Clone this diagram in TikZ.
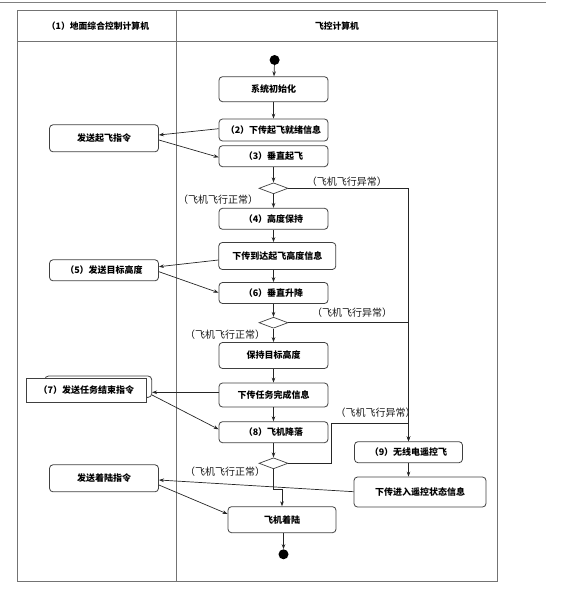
\documentclass[tikz,border=0pt]{standalone}
\usepackage{fontspec}
\setmainfont{Noto Sans CJK SC}
\usetikzlibrary{arrows.meta,shapes.geometric}
\begin{document}
\begin{tikzpicture}[x=1pt,y=-1pt,
  box/.style={draw=black!75, line width=0.8pt, rounded corners=3.5pt, inner sep=0pt, font=\bfseries\fontsize{9}{10}\selectfont},
  dec/.style={diamond, draw=black!75, line width=0.7pt, inner sep=0pt, minimum width=29pt, minimum height=11pt},
  lbl/.style={font=\fontsize{10}{11}\selectfont, text=black!90, inner sep=0pt},
  hdr/.style={font=\bfseries\fontsize{8.8}{10}\selectfont, inner sep=0pt},
  arr/.style={-{Stealth[length=5pt,width=3.6pt]}, line width=0.7pt, draw=black!85},
  ln/.style={line width=0.7pt, draw=black!85},
  frame/.style={draw=black!55, line width=0.8pt},
  dot/.style={circle, fill=black, inner sep=0pt, minimum size=10pt}
]
\useasboundingbox (0,0) rectangle (565,599);
% top rule
\draw[draw=black!50, line width=1.4pt] (0,2.7) -- (546,2.7);
% swimlane frame
\draw[frame] (17.3,10) rectangle (497.3,581.7);
\draw[frame] (17.3,41.7) -- (497.3,41.7);
\draw[frame] (176.6,10) -- (176.6,581.7);
\node[hdr] (h1) at (98,26) {（1）地面综合控制计算机};
\node[hdr] (h2) at (337,26) {飞控计算机};

% flight computer column
\node[dot] (start) at (274.6,60) {};
\node[box, minimum width=109pt, minimum height=25pt] (init) at (273.5,89.2) {系统初始化};
\node[box, minimum width=109pt, minimum height=22pt] (n2) at (273.5,130) {（2）下传起飞就绪信息};
\node[box, minimum width=109pt, minimum height=21pt] (n3) at (273.5,156.2) {（3）垂直起飞};
\node[dec] (d1) at (273.5,188.3) {};
\node[box, minimum width=109pt, minimum height=21pt] (n4) at (273.5,218.8) {（4）高度保持};
\node[box, minimum width=117pt, minimum height=27pt] (n4b) at (277.3,256) {下传到达起飞高度信息};
\node[box, minimum width=109pt, minimum height=21pt] (n6) at (273.5,293) {（6）垂直升降};
\node[dec] (d2) at (273.5,322.7) {};
\node[box, minimum width=109pt, minimum height=26pt] (keep) at (273.5,355.5) {保持目标高度};
\node[box, minimum width=109pt, minimum height=24pt] (done) at (273.5,395) {下传任务完成信息};
\node[box, minimum width=109pt, minimum height=21pt] (n8) at (273.5,432.2) {（8）飞机降落};
\node[dec] (d3) at (273.5,463.3) {};
\node[box, minimum width=108pt, minimum height=21pt] (n9) at (408.5,452.2) {（9）无线电遥控飞};
\node[box, minimum width=132pt, minimum height=30pt] (rc) at (420,492) {下传进入遥控状态信息};
\node[box, minimum width=108pt, minimum height=26pt] (land) at (282,519.7) {飞机着陆};
\node[dot] (end) at (283.5,554.3) {};

% ground computer column
\node[box, minimum width=109pt, minimum height=27pt] (sto) at (104,138.3) {发送起飞指令};
\node[box, minimum width=109pt, minimum height=21pt] (n5) at (104,270.3) {（5）发送目标高度};
\node[box, fill=white, minimum width=106.7pt, minimum height=21.3pt] (n7b) at (98.3,386.7) {};
\node[box, rounded corners=0pt, fill=white, line width=0.9pt, minimum width=120.7pt, minimum height=24pt] (n7) at (86.3,390.3) {（7）发送任务结束指令};
\node[box, minimum width=109pt, minimum height=27pt] (sld) at (104,478.3) {发送着陆指令};

% guard labels
\node[lbl] (la1) at (346.8,181.7) {（飞机飞行异常）};
\node[lbl] (ln1) at (218,200) {（飞机飞行正常）};
\node[lbl] (la2) at (352,312.7) {（飞机飞行异常）};
\node[lbl] (ln2) at (225,335) {（飞机飞行正常）};
\node[lbl] (la3) at (375.7,412.7) {（飞机飞行异常）};
\node[lbl] (ln3) at (225,471.7) {（飞机飞行正常）};

% main flow
\draw[arr] (start) -- (init);
\draw[arr] (init) -- (n2);
\draw[arr] (n3) -- (d1);
\draw[arr] (d1) -- (n4);
\draw[arr] (n4.south) -- (n4.south |- n4b.north);
\draw[arr] (n4b.south -| n6.north) -- (n6.north);
\draw[arr] (n6) -- (d2);
\draw[arr] (d2) -- (keep);
\draw[arr] (keep) -- (done);
\draw[arr] (done) -- (n8);
\draw[arr] (n8) -- (d3);
\coordinate (j3) at (282,489);
\draw[arr] (d3.south) |- (j3) -- (j3 |- land.north);
\draw[arr] (land.south -| end) -- (end);

% abnormal branch
\draw[arr] (d1.east) -| (n9.north);
\draw[ln] (d2.east) -- (d2.east -| n9.north);
\coordinate (k1) at (331.5,423.3);
\draw[arr] (d3.east) -| (k1) -| (n9.north);
\draw[arr] (n9.south) -- (n9.south |- rc.north);

% messages between lanes
\draw[arr] ([yshift=1.3pt]n2.west) -- ([yshift=3.3pt]sto.east);
\draw[arr] ([yshift=-1.7pt]sto.east) -- ([yshift=-1.1pt]n3.west);
\draw[arr] ([yshift=-4pt]n4b.west) -- ([yshift=3.6pt]n5.east);
\draw[arr] ([yshift=-1.4pt]n5.east) -- ([yshift=0.3pt]n6.west);
\draw[arr] ([yshift=2.7pt]done.west) -- ([yshift=-5.6pt]n7b.east);
\draw[arr] ([yshift=-8.3pt]n7b.east) -- ([yshift=2.9pt]n8.west);
\draw[arr] ([yshift=0.3pt]rc.west) -- ([yshift=-1.7pt]sld.east);
\draw[arr] ([yshift=-6.7pt]sld.east) -- ([yshift=5.7pt]land.west);
\end{tikzpicture}
\end{document}
